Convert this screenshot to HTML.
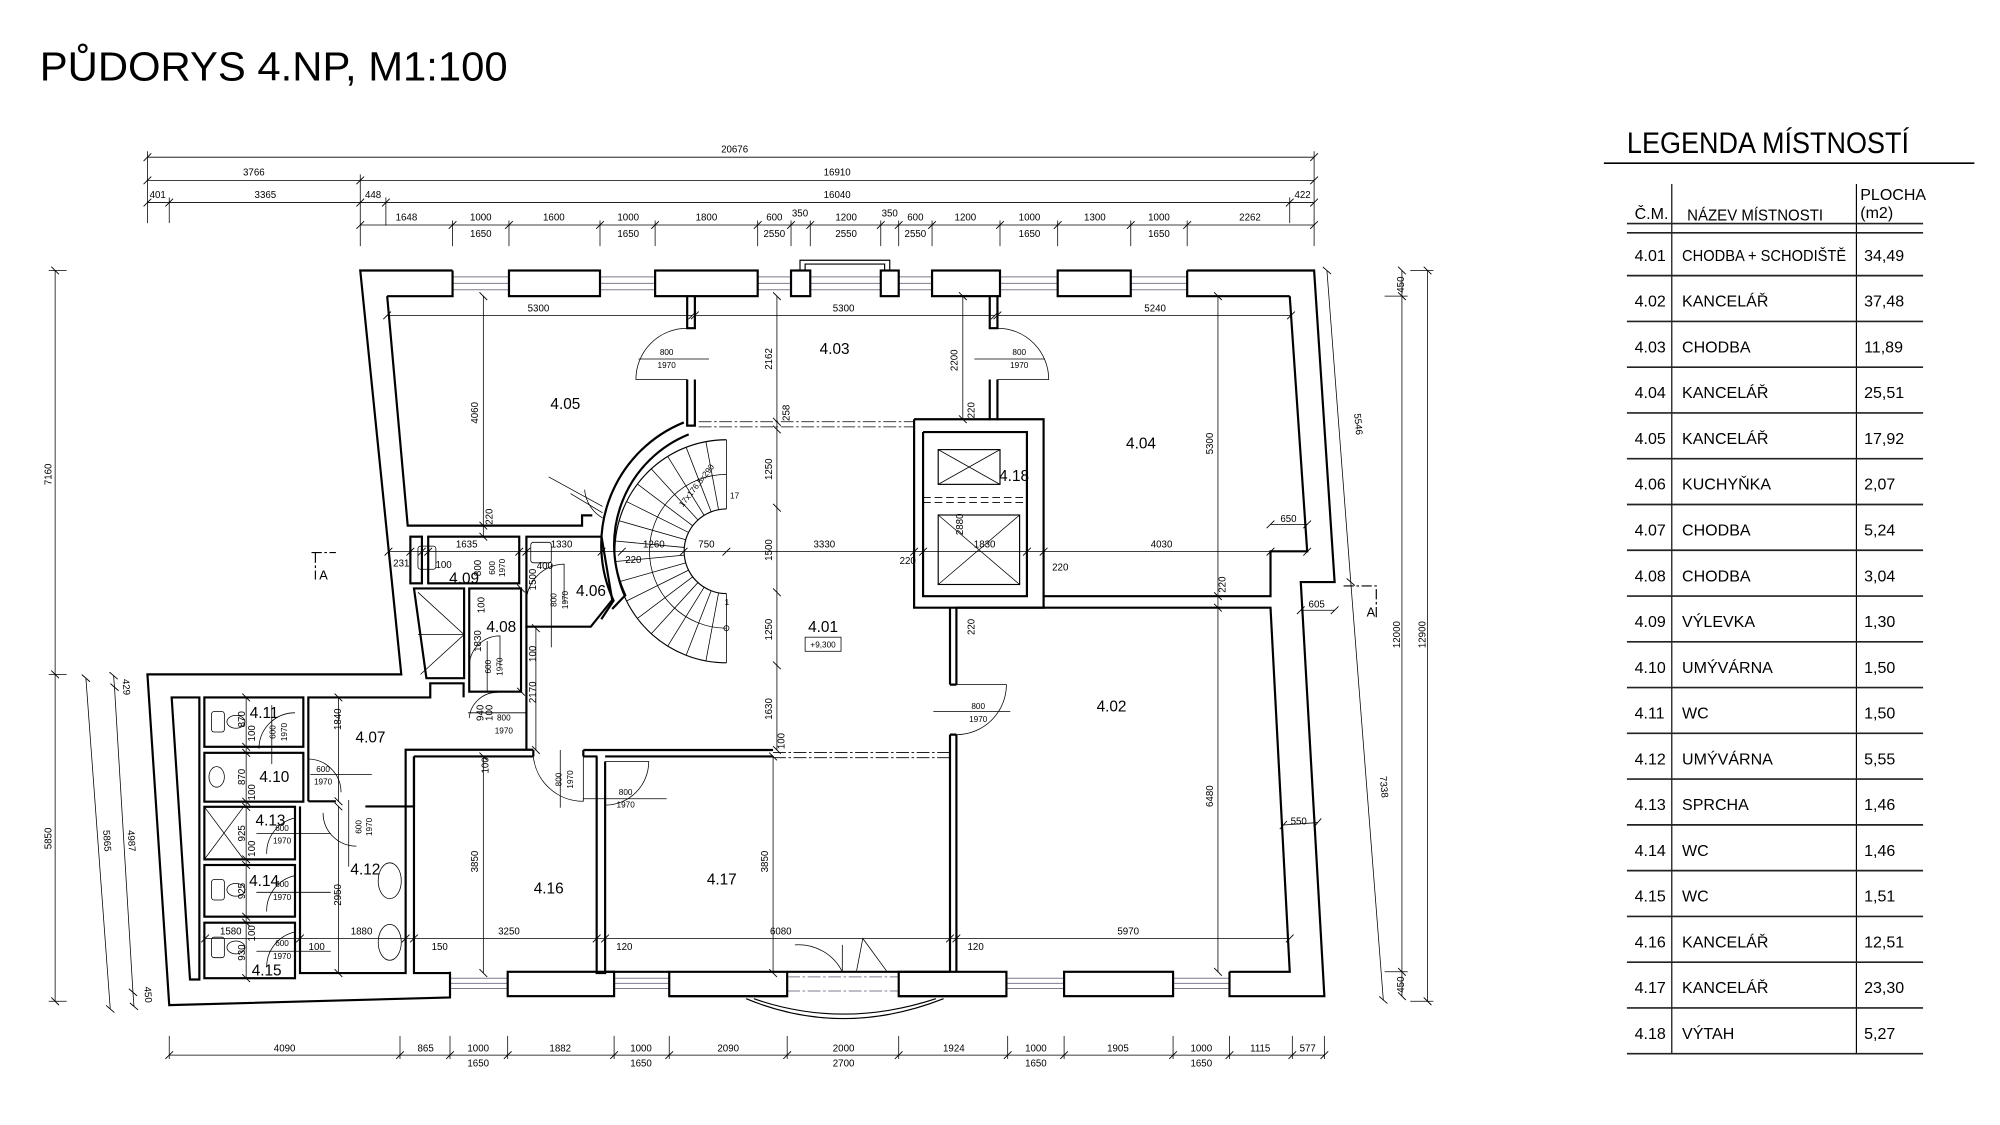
<!DOCTYPE html>
<html><head><meta charset="utf-8"><style>
html,body{margin:0;padding:0;background:#fff}
svg{display:block}
text{font-family:"Liberation Sans",sans-serif;fill:#000}
.d{font-size:7.6px;text-anchor:middle}
.r{font-size:12px;text-anchor:middle}
.s{font-size:6.4px;text-anchor:middle}
.w{fill:none;stroke:#000;stroke-width:1.7}
.t{fill:none;stroke:#000;stroke-width:0.6}
.m{fill:none;stroke:#000;stroke-width:0.9}
.g{fill:none;stroke:#7c7c90;stroke-width:0.8}
.dim{fill:none;stroke:#000;stroke-width:0.6;marker-start:url(#k);marker-end:url(#k);marker-mid:url(#k)}
.lg{font-size:12.5px}
</style></head><body>
<svg width="2000" height="1125" viewBox="0 0 1560 877.5" xmlns="http://www.w3.org/2000/svg">
<defs>
<marker id="k" markerWidth="8" markerHeight="8" refX="4" refY="4" orient="auto" markerUnits="userSpaceOnUse"><path d="M1,7 L7,1" stroke="#000" stroke-width="0.7"/></marker>
</defs>
<rect width="1560" height="877.5" fill="#fff"/>

<!-- TITLE -->
<text x="31" y="62.7" font-size="32" textLength="365" lengthAdjust="spacingAndGlyphs">PŮDORYS 4.NP, M1:100</text>

<!-- LEGEND -->
<text x="1269" y="119.5" font-size="23" textLength="220" lengthAdjust="spacingAndGlyphs">LEGENDA MÍSTNOSTÍ</text>
<line x1="1251" y1="127.3" x2="1540" y2="127.3" stroke="#000" stroke-width="1.3"/>
<line x1="1304" y1="143.5" x2="1304" y2="822" stroke="#000" stroke-width="0.9"/>
<line x1="1448" y1="143.5" x2="1448" y2="822" stroke="#000" stroke-width="0.9"/>
<line x1="1269" y1="174.4" x2="1500" y2="174.4" stroke="#222" stroke-width="1.3"/>
<line x1="1269" y1="181.6" x2="1500" y2="181.6" stroke="#222" stroke-width="1.3"/>
<text class="lg" x="1275" y="171" font-size="12">Č.M.</text>
<text class="lg" x="1316" y="172" textLength="106" lengthAdjust="spacingAndGlyphs">NÁZEV MÍSTNOSTI</text>
<text class="lg" x="1451" y="156">PLOCHA</text>
<text class="lg" x="1451" y="170">(m2)</text>
<g stroke="#222" stroke-width="1.3">
<line x1="1269" y1="215" x2="1500" y2="215"/><line x1="1269" y1="250.7" x2="1500" y2="250.7"/>
<line x1="1269" y1="286.4" x2="1500" y2="286.4"/><line x1="1269" y1="322.1" x2="1500" y2="322.1"/>
<line x1="1269" y1="357.8" x2="1500" y2="357.8"/><line x1="1269" y1="393.5" x2="1500" y2="393.5"/>
<line x1="1269" y1="429.2" x2="1500" y2="429.2"/><line x1="1269" y1="464.9" x2="1500" y2="464.9"/>
<line x1="1269" y1="500.6" x2="1500" y2="500.6"/><line x1="1269" y1="536.3" x2="1500" y2="536.3"/>
<line x1="1269" y1="572" x2="1500" y2="572"/><line x1="1269" y1="607.7" x2="1500" y2="607.7"/>
<line x1="1269" y1="643.4" x2="1500" y2="643.4"/><line x1="1269" y1="679.1" x2="1500" y2="679.1"/>
<line x1="1269" y1="714.8" x2="1500" y2="714.8"/><line x1="1269" y1="750.5" x2="1500" y2="750.5"/>
<line x1="1269" y1="786.2" x2="1500" y2="786.2"/><line x1="1269" y1="821.9" x2="1500" y2="821.9"/>
</g>
<g class="lg">
<text x="1275" y="203.5">4.01</text><text x="1312" y="203.5" textLength="128" lengthAdjust="spacingAndGlyphs">CHODBA + SCHODIŠTĚ</text><text x="1454" y="203.5">34,49</text>
<text x="1275" y="239.2">4.02</text><text x="1312" y="239.2">KANCELÁŘ</text><text x="1454" y="239.2">37,48</text>
<text x="1275" y="274.9">4.03</text><text x="1312" y="274.9">CHODBA</text><text x="1454" y="274.9">11,89</text>
<text x="1275" y="310.6">4.04</text><text x="1312" y="310.6">KANCELÁŘ</text><text x="1454" y="310.6">25,51</text>
<text x="1275" y="346.3">4.05</text><text x="1312" y="346.3">KANCELÁŘ</text><text x="1454" y="346.3">17,92</text>
<text x="1275" y="382">4.06</text><text x="1312" y="382">KUCHYŇKA</text><text x="1454" y="382">2,07</text>
<text x="1275" y="417.7">4.07</text><text x="1312" y="417.7">CHODBA</text><text x="1454" y="417.7">5,24</text>
<text x="1275" y="453.4">4.08</text><text x="1312" y="453.4">CHODBA</text><text x="1454" y="453.4">3,04</text>
<text x="1275" y="489.1">4.09</text><text x="1312" y="489.1">VÝLEVKA</text><text x="1454" y="489.1">1,30</text>
<text x="1275" y="524.8">4.10</text><text x="1312" y="524.8">UMÝVÁRNA</text><text x="1454" y="524.8">1,50</text>
<text x="1275" y="560.5">4.11</text><text x="1312" y="560.5">WC</text><text x="1454" y="560.5">1,50</text>
<text x="1275" y="596.2">4.12</text><text x="1312" y="596.2">UMÝVÁRNA</text><text x="1454" y="596.2">5,55</text>
<text x="1275" y="631.9">4.13</text><text x="1312" y="631.9">SPRCHA</text><text x="1454" y="631.9">1,46</text>
<text x="1275" y="667.6">4.14</text><text x="1312" y="667.6">WC</text><text x="1454" y="667.6">1,46</text>
<text x="1275" y="703.3">4.15</text><text x="1312" y="703.3">WC</text><text x="1454" y="703.3">1,51</text>
<text x="1275" y="739">4.16</text><text x="1312" y="739">KANCELÁŘ</text><text x="1454" y="739" fill="#888">12,51</text>
<text x="1275" y="774.7">4.17</text><text x="1312" y="774.7">KANCELÁŘ</text><text x="1454" y="774.7" fill="#888">23,30</text>
<text x="1275" y="810.4">4.18</text><text x="1312" y="810.4">VÝTAH</text><text x="1454" y="810.4" fill="#888">5,27</text>
</g>

<!-- TOP DIMENSIONS -->
<g>
<polyline class="dim" points="115,122.6 1025,122.6"/><text class="d" x="573" y="119">20676</text>
<polyline class="dim" points="115,140.7 281,140.7 1025,140.7"/><text class="d" x="198" y="137">3766</text><text class="d" x="653" y="137">16910</text>
<polyline class="dim" points="115,158 132,158 281,158 301,158 1006,158 1025,158"/>
<text class="d" x="123" y="154.5">401</text><text class="d" x="207" y="154.5">3365</text><text class="d" x="291" y="154.5">448</text><text class="d" x="653" y="154.5">16040</text><text class="d" x="1016" y="154.5">422</text>
<polyline class="dim" points="281,175.5 353,175.5 397,175.5 468,175.5 511,175.5 591,175.5 617,175.5 632,175.5 687,175.5 701,175.5 727,175.5 780,175.5 825,175.5 882,175.5 926,175.5 1025,175.5"/>
<g class="d">
<text x="317" y="172">1648</text><text x="375" y="172">1000</text><text x="432" y="172">1600</text><text x="490" y="172">1000</text><text x="551" y="172">1800</text><text x="604" y="172">600</text><text x="624" y="169">350</text><text x="660" y="172">1200</text><text x="694" y="169">350</text><text x="714" y="172">600</text><text x="753" y="172">1200</text><text x="803" y="172">1000</text><text x="854" y="172">1300</text><text x="904" y="172">1000</text><text x="975" y="172">2262</text>
<text x="375" y="185">1650</text><text x="490" y="185">1650</text><text x="604" y="185">2550</text><text x="660" y="185">2550</text><text x="714" y="185">2550</text><text x="803" y="185">1650</text><text x="904" y="185">1650</text>
</g>
<g class="t">
<line x1="115" y1="118" x2="115" y2="174"/><line x1="132" y1="154" x2="132" y2="174"/><line x1="281" y1="136" x2="281" y2="192"/><line x1="301" y1="154" x2="301" y2="176"/>
<line x1="1025" y1="118" x2="1025" y2="192"/><line x1="1006" y1="154" x2="1006" y2="174"/>
<line x1="353" y1="172" x2="353" y2="192"/><line x1="397" y1="172" x2="397" y2="192"/><line x1="468" y1="172" x2="468" y2="192"/><line x1="511" y1="172" x2="511" y2="192"/><line x1="591" y1="172" x2="591" y2="192"/><line x1="617" y1="172" x2="617" y2="192"/><line x1="632" y1="172" x2="632" y2="192"/><line x1="687" y1="172" x2="687" y2="192"/><line x1="701" y1="172" x2="701" y2="192"/><line x1="727" y1="172" x2="727" y2="192"/><line x1="780" y1="172" x2="780" y2="192"/><line x1="825" y1="172" x2="825" y2="192"/><line x1="882" y1="172" x2="882" y2="192"/><line x1="926" y1="172" x2="926" y2="192"/>
</g>
</g>

<!-- BOTTOM DIMENSIONS -->
<polyline class="dim" points="132,823 312,823 351,823 396,823 479,823 522,823 614,823 701,823 786,823 830,823 915,823 959,823 1008,823 1033,823"/>
<g class="t">
<line x1="132" y1="808" x2="132" y2="826"/><line x1="312" y1="808" x2="312" y2="826"/><line x1="351" y1="808" x2="351" y2="826"/><line x1="396" y1="808" x2="396" y2="826"/><line x1="479" y1="808" x2="479" y2="826"/><line x1="522" y1="808" x2="522" y2="826"/><line x1="614" y1="808" x2="614" y2="826"/><line x1="701" y1="808" x2="701" y2="826"/><line x1="786" y1="808" x2="786" y2="826"/><line x1="830" y1="808" x2="830" y2="826"/><line x1="915" y1="808" x2="915" y2="826"/><line x1="959" y1="808" x2="959" y2="826"/><line x1="1008" y1="808" x2="1008" y2="826"/><line x1="1033" y1="808" x2="1033" y2="826"/>
</g>
<g class="d">
<text x="222" y="820">4090</text><text x="332" y="820">865</text><text x="373" y="820">1000</text><text x="437" y="820">1882</text><text x="500" y="820">1000</text><text x="568" y="820">2090</text><text x="658" y="820">2000</text><text x="744" y="820">1924</text><text x="808" y="820">1000</text><text x="872" y="820">1905</text><text x="937" y="820">1000</text><text x="983" y="820">1115</text><text x="1020" y="820">577</text>
<text x="373" y="832">1650</text><text x="500" y="832">1650</text><text x="658" y="832">2700</text><text x="808" y="832">1650</text><text x="937" y="832">1650</text>
</g>

<!-- LEFT DIMENSIONS -->
<polyline class="dim" points="43,211 43,526 43,781"/>
<line class="t" x1="38" y1="211" x2="52" y2="211"/><line class="t" x1="38" y1="526" x2="52" y2="526"/><line class="t" x1="38" y1="781" x2="52" y2="781"/>
<text class="d" transform="translate(40,370) rotate(-90)">7160</text>
<text class="d" transform="translate(40,654) rotate(-90)">5850</text>
<polyline class="dim" points="67,529 86,787"/>
<polyline class="dim" points="88.6,527 89.3,536 103.7,774 104.5,785"/>
<text class="d" transform="translate(81,656) rotate(86)">5865</text>
<text class="d" transform="translate(100,656) rotate(86)">4987</text>
<text class="d" transform="translate(96,536) rotate(86)">429</text>
<text class="d" transform="translate(113,776) rotate(86)">450</text>

<!-- RIGHT DIMENSIONS -->
<polyline class="dim" points="1093.5,211 1093.5,231 1093.5,758 1093.5,777"/>
<polyline class="dim" points="1113.5,211 1113.5,781"/>
<line class="t" x1="1080" y1="231" x2="1098" y2="231"/><line class="t" x1="1080" y1="758" x2="1098" y2="758"/>
<line class="t" x1="1100" y1="211" x2="1118" y2="211"/><line class="t" x1="1100" y1="781" x2="1118" y2="781"/>
<text class="d" transform="translate(1092,495) rotate(-90)">12000</text>
<text class="d" transform="translate(1112,495) rotate(-90)">12900</text>
<text class="d" transform="translate(1095,222) rotate(-90)">450</text>
<text class="d" transform="translate(1095,768) rotate(-90)">450</text>
<polyline class="dim" points="1035,211 1053.6,454 1079,780"/>
<text class="d" transform="translate(1057,331) rotate(85)">5546</text>
<text class="d" transform="translate(1077,614) rotate(85)">7338</text>

<!-- WINDOWS (gray lines) -->
<g class="g">
<path d="M353,216H397M353,221H397M353,226H397 M468,216H511M468,221H511M468,226H511 M591,216H617M591,221H617M591,226H617 M632,216H687M632,221H687M632,226H687 M701,216H727M701,221H727M701,226H727 M780,216H825M780,221H825M780,226H825 M882,216H926M882,221H926M882,226H926"/>
<path d="M351,763H396M351,767H396M351,771H396 M479,763H522M479,767H522M479,771H522 M785,763H830M785,767H830M785,771H830 M915,763H959M915,767H959M915,771H959"/>
<path d="M614,762H701M614,773H701" stroke-dasharray="10,2,2,2"/>
</g>
<!-- balcony -->
<path class="m" d="M624,211V203H694V211 M628,211V206H690V211"/>

<!-- WALLS -->
<g class="w">
<!-- top piers -->
<path d="M302,231H353V211"/>
<rect x="397" y="211" width="71" height="20"/>
<rect x="511" y="211" width="80" height="20"/>
<rect x="617" y="211" width="15" height="20"/>
<rect x="687" y="211" width="14" height="20"/>
<rect x="727" y="211" width="53" height="20"/>
<rect x="825" y="211" width="57" height="20"/>
<path d="M926,211V231H1006"/>
<!-- outer left -->
<path d="M353,211H281L313,526H115L132,784L351,778V758"/>
<!-- outer right -->
<path d="M926,211H1025L1041,454H1014.6L1033,777H959V758"/>
<!-- bottom piers -->
<rect x="396" y="758" width="83" height="19"/>
<path d="M522,758H614V777H522Z"/>
<path d="M701,758H785V777H701Z"/>
<rect x="830" y="758" width="85" height="19"/>
<path d="M614,777H522M701,777H785"/>
<!-- 4.05 -->
<path d="M302,231L318,410H454V402H462"/>
<path d="M536,231V256H542V231 M536,296V332H542V296"/>
<!-- 4.03/4.04 -->
<path d="M772,231V256H778V231 M772,296V327H778V296"/>
<!-- 4.04 right -->
<path d="M1006,231L1019.6,430H991V465H814"/>
<!-- lift block -->
<path d="M713,327V474H814V327H778"/>
<path d="M772,327H713 M720,337V465H801V337H720"/>
<!-- 4.02 -->
<path d="M746,474H991L1006,758H959"/>
<path d="M741,474V534M746,474V534 M741,573V758M746,573V758 M741,534H746M741,573H746"/>
<!-- 4.16 / 4.17 -->
<path d="M322.9,590V759H351 M465.4,590V759H472V594 M472,628V758H522 M614,758H741"/>
<path d="M455,585H603 M455,590H466 M472,590H603 M416,585V590 M455,585V590 M322.9,590H416"/>
<!-- wing -->
<path d="M133.9,544H155.5V764H148.2Z"/>
<rect x="159.4" y="544" width="77.2" height="38.5"/>
<rect x="159.4" y="587.2" width="77.2" height="38.1"/>
<rect x="159.4" y="629.3" width="70.7" height="41"/>
<rect x="159.4" y="674.7" width="70.7" height="40.3"/>
<rect x="159.4" y="719.7" width="70.7" height="43.3"/>
<path d="M240.5,625V544H335.6V533H361.6V544"/>
<path d="M240.5,625H262 M234,629V759H316.4V629H285"/>
<path d="M316.4,629V584.8H416 M322.9,590V629H316.4"/>
<!-- 4.08/4.09/4.06 cluster -->
<rect x="320.1" y="418.6" width="9" height="36.4"/>
<rect x="334" y="418.6" width="71" height="36.4"/>
<path d="M410.6,418.6H469.2L477.5,468L460.8,488.8H410.6Z"/>
<rect x="366" y="459" width="40.4" height="80.5"/>
<path d="M322.9,459H362V529H332.6Z"/>
<path d="M410.6,488.8V584.8"/>
<!-- stair wall -->
<path d="M533.4,329.5A103,103 0 0 0 478.6,468.5L469,483"/>
<path d="M537.2,338.8A93,93 0 0 0 487.7,464.3L477.5,475"/>
</g>
<!-- closet hatch -->
<path class="t" d="M326,462L362,495L328,526 M326,495H362"/>
<!-- lift X -->
<g class="t">
<rect x="731.8" y="350.7" width="48.2" height="27.1" stroke-width="0.9"/><path d="M731.8,350.7L780,377.8M780,350.7L731.8,377.8"/>
<rect x="731.8" y="401.7" width="63.5" height="54.2" stroke-width="0.9"/><path d="M731.8,401.7L795.3,455.9M795.3,401.7L731.8,455.9"/>
<path d="M720,388H801M720,392H801" stroke-dasharray="6,3"/>
</g>

<!-- STAIR -->
<g class="t">
<path d="M566.6,343A87,87 0 0 0 566.6,517" stroke-width="0.9"/>
<path d="M566.6,397A33,33 0 0 0 566.6,463" stroke-width="0.9"/>
<path d="M566.6,343V397M566.6,463V517"/>
<path d="M566.6,370A60,60 0 0 0 566.6,490"/>
<path d="M560.5,397.6L550.6,344.5M554.7,399.2L535.2,348.9M549.2,401.9L520.8,356M544.4,405.6L508,365.7M540.3,410.1L497.2,377.6M537.1,415.3L488.7,391.2M534.9,421L482.9,406.2M533.7,427L480,422M533.7,433L480,438M534.9,439L482.9,453.8M537.1,444.7L488.7,468.8M540.3,449.9L497.2,482.4M544.4,454.4L508,494.3M549.2,458.1L520.8,504M554.7,460.8L535.2,511.1M560.5,462.4L550.6,515.5"/>
<circle cx="566.6" cy="490" r="2"/>
</g>
<text class="s" transform="translate(545,380) rotate(-52)">17x176,5x290</text>
<text class="s" x="573" y="389">17</text><text class="s" x="567" y="472">1</text>

<!-- glazed partitions -->
<g class="t">
<path d="M545,329H713M545,333H713" stroke-dasharray="10,2,2,2"/>
<path d="M603,587H741M603,591H741" stroke-dasharray="10,2,2,2"/>
</g>

<!-- DOORS -->
<g class="t">
<path d="M536,256A40,40 0 0 0 496,296H536"/><path d="M498,280H553"/>
<path d="M778,256A40,40 0 0 1 818,296H778"/><path d="M760,280H815"/>
<path d="M746,534H785A39,39 0 0 1 746,573"/><path d="M728,555H788"/>
<path d="M455,590V625A39,39 0 0 1 416,590"/><path d="M437,585V630"/>
<path d="M472,594H506A34,34 0 0 1 472,628"/><path d="M455,623H520"/>
<path d="M456,382A28,28 0 0 0 470,404 M445,385L470,400 M428,372L470,395"/>
<path d="M410.6,470A30,30 0 0 1 440,440 V470 M430,440V505"/>
<path d="M366,520A24,24 0 0 1 390,496V520 M380,500V540"/>
<path d="M366,560A22,22 0 0 1 388,540 M365,556H410"/>
<path d="M230.1,556A28,28 0 0 0 202,584 M212,550V596"/>
<path d="M240.5,592A26,26 0 0 1 266,618 M242,604H290"/>
<path d="M230.1,638A28,28 0 0 0 208,666 M200,650H258"/>
<path d="M230.1,683A28,28 0 0 0 208,711 M200,696H258"/>
<path d="M230.1,727A28,28 0 0 0 208,754 M200,742H258"/>
<path d="M252,634A26,26 0 0 0 278,660 M272,624V676"/>
<path d="M620,737A38,38 0 0 1 657,758 M668,758L673,732L692,758 M657,758V737"/>
</g>
<!-- entrance bay -->
<path class="m" d="M582,779Q657,810 736,779 M588,779Q657,803 730,779"/>

<!-- fixtures -->
<g class="t">
<rect x="165" y="555" width="10" height="16" rx="2"/><ellipse cx="184" cy="563" rx="7" ry="5"/>
<ellipse cx="169" cy="606" rx="6" ry="8"/>
<path d="M159.4,629.3L190,670.3M190,629.3L159.4,670.3"/>
<rect x="165" y="686" width="10" height="16" rx="2"/><ellipse cx="184" cy="694" rx="7" ry="5"/>
<rect x="165" y="731" width="10" height="16" rx="2"/><ellipse cx="184" cy="739" rx="7" ry="5"/>
<ellipse cx="304" cy="687" rx="9" ry="14"/><ellipse cx="304" cy="735" rx="9" ry="14"/>
<rect x="326" y="426" width="14" height="18" rx="2"/><rect x="414" y="423" width="16" height="16" rx="2"/>
</g>

<!-- INTERNAL DIMENSIONS -->
<g>
<polyline class="dim" points="302,246 540,246"/><text class="d" x="420" y="243">5300</text>
<polyline class="dim" points="542,246 776,246"/><text class="d" x="658" y="243">5300</text>
<polyline class="dim" points="778,246 1007,246"/><text class="d" x="901" y="243">5240</text>
<polyline class="dim" points="377,231 377,410 377,418.6"/><text class="d" transform="translate(373,322) rotate(-90)">4060</text>
<text class="d" transform="translate(384,403) rotate(-90)">220</text>
<polyline class="dim" points="606,231 606,329 606,335 606,396 606,462 606,519 606,585"/>
<text class="d" transform="translate(602,280) rotate(-90)">2162</text>
<text class="d" transform="translate(616,322) rotate(-90)">258</text>
<text class="d" transform="translate(602,366) rotate(-90)">1250</text>
<text class="d" transform="translate(602,429) rotate(-90)">1500</text>
<text class="d" transform="translate(602,491) rotate(-90)">1250</text>
<text class="d" transform="translate(602,553) rotate(-90)">1630</text>
<text class="d" transform="translate(612,578) rotate(-90)">100</text>
<polyline class="dim" points="751,231 751,327"/><text class="d" transform="translate(747,281) rotate(-90)">2200</text>
<text class="d" transform="translate(760,320) rotate(-90)">220</text>
<text class="d" transform="translate(760,489) rotate(-90)">220</text>
<text class="d" transform="translate(751,409) rotate(-90)">2880</text>
<polyline class="dim" points="950,231 950,465 950,474 950,758"/>
<text class="d" transform="translate(946,346) rotate(-90)">5300</text>
<text class="d" transform="translate(946,621) rotate(-90)">6480</text>
<text class="d" transform="translate(956,456) rotate(-90)">220</text>
<polyline class="dim" points="303,430.3 320.1,430.3 329,430.3 334,430.3 405,430.3 410.6,430.3 469.2,430.3 485,430.3 533.2,430.3 566.6,430.3 713,430.3 720,430.3 801,430.3 814,430.3 991,430.3 1019.6,430.3"/>
<g class="d">
<text x="313" y="442">231</text><text x="364" y="427">1635</text><text x="438" y="427">1330</text><text x="510" y="427">1260</text><text x="551" y="427">750</text><text x="643" y="427">3330</text><text x="768" y="427">1830</text><text x="906" y="427">4030</text>
<text x="494" y="439">220</text><text x="708" y="440">220</text><text x="827" y="445">220</text><text x="1005" y="407">650</text>
<text x="1027" y="474">605</text><text x="1013" y="643">550</text>
<text x="346" y="443">100</text><text x="425" y="444">400</text>
</g>
<polyline class="dim" points="991,409 1019.6,409"/>
<polyline class="dim" points="1014.6,476 1041,476"/>
<polyline class="dim" points="1001,643.5 1027.8,641.6"/>
<polyline class="dim" points="160,732 234,732 316.4,732 322.9,732 465.4,732 472,732 741,732 746,732 1006,732"/>
<g class="d">
<text x="180" y="729">1580</text><text x="282" y="729">1880</text><text x="397" y="729">3250</text><text x="609" y="729">6080</text><text x="880" y="729">5970</text>
<text x="247" y="741">100</text><text x="343" y="741">150</text><text x="487" y="741">120</text><text x="761" y="741">120</text>
</g>
<polyline class="dim" points="377,590 377,759"/><text class="d" transform="translate(373,672) rotate(-90)">3850</text>
<polyline class="dim" points="603,590 603,759"/><text class="d" transform="translate(599,672) rotate(-90)">3850</text>
<polyline class="dim" points="264,544 264,625"/><text class="d" transform="translate(266,561) rotate(-90)">1840</text>
<polyline class="dim" points="264,629 264,759"/><text class="d" transform="translate(266,698) rotate(-90)">2950</text>
<polyline class="dim" points="406.4,459 406.4,539.5"/><text class="d" transform="translate(375,500) rotate(-90)">1830</text>
<polyline class="dim" points="418,490 418,585"/><text class="d" transform="translate(418,540) rotate(-90)">2170</text>
<text class="d" transform="translate(418,510) rotate(-90)">100</text>
<text class="d" transform="translate(418,452) rotate(-90)">1500</text>
<text class="d" transform="translate(378,472) rotate(-90)">100</text>
<text class="d" transform="translate(375,443) rotate(-90)">800</text>
<text class="d" transform="translate(377,556) rotate(-90)">940</text>
<text class="d" transform="translate(384,556) rotate(-90)">100</text>
<text class="d" transform="translate(381,597) rotate(-90)">100</text>
<polyline class="dim" points="192,544 192,582.5 192,587.2 192,625.3 192,629.3 192,670.3 192,674.7 192,715 192,719.7 192,763"/>
<text class="d" transform="translate(191,561) rotate(-90)">870</text>
<text class="d" transform="translate(199,572) rotate(-90)">100</text>
<text class="d" transform="translate(191,606) rotate(-90)">870</text>
<text class="d" transform="translate(199,618) rotate(-90)">100</text>
<text class="d" transform="translate(191,650) rotate(-90)">925</text>
<text class="d" transform="translate(199,662) rotate(-90)">100</text>
<text class="d" transform="translate(191,695) rotate(-90)">925</text>
<text class="d" transform="translate(191,743) rotate(-90)">930</text>
<text class="d" transform="translate(199,728) rotate(-90)">100</text>
</g>
<!-- door labels -->
<g class="s">
<text x="520" y="277">800</text><text x="520" y="287">1970</text>
<text x="795" y="277">800</text><text x="795" y="287">1970</text>
<text x="763" y="553">800</text><text x="763" y="563">1970</text>
<text x="488" y="620">800</text><text x="488" y="630">1970</text>
<text x="393" y="562">800</text><text x="393" y="572">1970</text>
<text x="252" y="602">600</text><text x="252" y="612">1970</text>
<text x="220" y="648">600</text><text x="220" y="658">1970</text>
<text x="220" y="692">600</text><text x="220" y="702">1970</text>
<text x="220" y="738">600</text><text x="220" y="748">1970</text>
<text transform="translate(438,608) rotate(-90)">800</text><text transform="translate(447,608) rotate(-90)">1970</text>
<text transform="translate(434,468) rotate(-90)">800</text><text transform="translate(443,468) rotate(-90)">1970</text>
<text transform="translate(215,571) rotate(-90)">600</text><text transform="translate(224,571) rotate(-90)">1970</text>
<text transform="translate(383,520) rotate(-90)">600</text><text transform="translate(392,520) rotate(-90)">1970</text>
<text transform="translate(386,443) rotate(-90)">600</text><text transform="translate(394,443) rotate(-90)">1970</text>
<text transform="translate(282,645) rotate(-90)">600</text><text transform="translate(290,645) rotate(-90)">1970</text>
</g>

<!-- ROOM LABELS -->
<g class="r">
<text x="441" y="319">4.05</text><text x="651" y="276">4.03</text><text x="890" y="350">4.04</text><text x="791" y="375">4.18</text>
<text x="642" y="493">4.01</text><text x="867" y="555">4.02</text><text x="461" y="465">4.06</text><text x="362" y="455">4.09</text>
<text x="391" y="493">4.08</text><text x="289" y="579">4.07</text><text x="206" y="560">4.11</text><text x="214" y="610">4.10</text>
<text x="211" y="644">4.13</text><text x="285" y="682">4.12</text><text x="206" y="691">4.14</text><text x="208" y="761">4.15</text>
<text x="428" y="697">4.16</text><text x="563" y="690">4.17</text>
</g>
<rect x="628" y="497" width="28" height="11" fill="none" stroke="#000" stroke-width="0.6"/>
<text class="s" x="642" y="505">+9,300</text>

<!-- SECTION MARKS -->
<g class="m">
<path d="M243,431H262 M246,431V452" stroke-dasharray="8,2,2,2"/>
<path d="M1048,457H1073.5V483" stroke-dasharray="8,2,2,2"/>
</g>
<text x="249" y="452" font-size="10">A</text>
<text x="1066" y="481" font-size="10">A</text>
</svg>
</body></html>
